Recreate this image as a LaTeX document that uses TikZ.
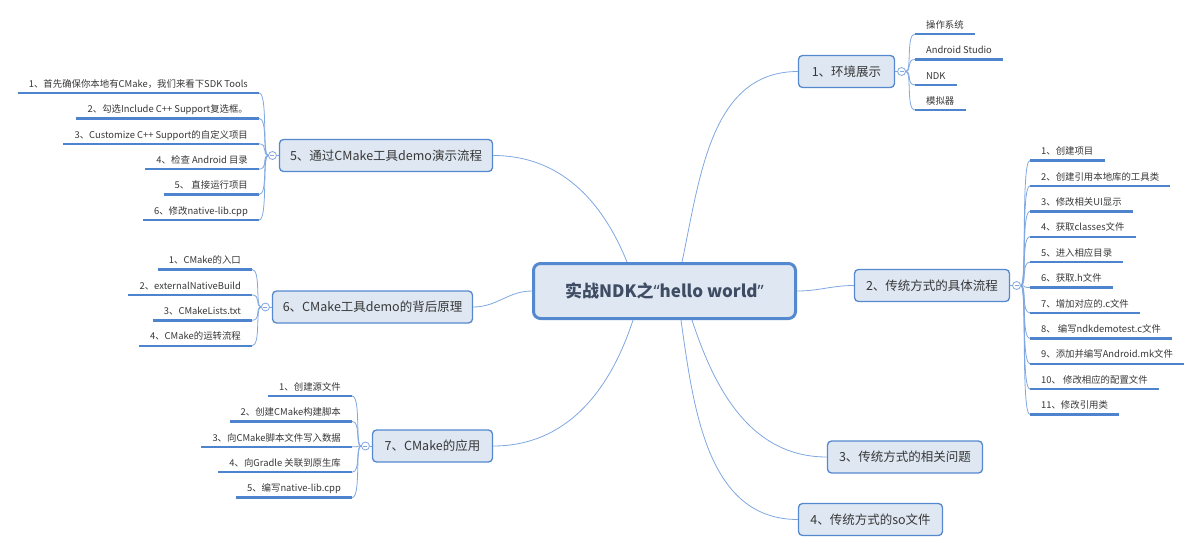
\documentclass[tikz,border=0pt]{standalone}
\usepackage{fontspec}
\setmainfont{Noto Sans CJK SC}
\newfontfamily\quotefont{Noto Sans}
\usetikzlibrary{positioning}
\definecolor{ndkfill}{RGB}{222,231,242}
\definecolor{ndkedge}{RGB}{84,137,208}
\definecolor{ndkwire}{RGB}{128,167,224}
\definecolor{ndkbar}{RGB}{78,132,205}
\definecolor{ndktext}{RGB}{55,55,55}
\definecolor{ndkhead}{RGB}{62,76,100}
\newcommand{\ndkquote}[1]{{\quotefont\bfseries #1}}
\tikzset{
  root/.style={draw=ndkedge, line width=3pt, fill=ndkfill, rounded corners=7pt, text=ndkhead, font=\bfseries\fontsize{17}{20}\selectfont, minimum width=262pt, minimum height=55pt},
  topic/.style={draw=ndkedge, line width=1.3pt, fill=ndkfill, rounded corners=4pt, text=ndktext, font=\fontsize{12.5}{14}\selectfont, minimum height=32pt},
  leaf/.style={text=ndktext, font=\fontsize{9.4}{10}\selectfont, inner xsep=11pt, inner ysep=3.6pt, text height=7pt, text depth=2pt,
    append after command={(\tikzlastnode.south west) edge[draw=ndkbar, line width=2.4pt] (\tikzlastnode.south east)}},
  fold/.style={circle, draw=ndkwire, fill=white, line width=0.8pt, minimum size=8pt, inner sep=0pt,
    path picture={\draw[ndkwire, line width=0.7pt] ([xshift=-2pt]path picture bounding box.center) -- ([xshift=2pt]path picture bounding box.center);}},
  wire/.style={draw=ndkwire, line width=0.8pt},
  twig/.style={wire, out distance=6pt, in distance=9pt}
}
\begin{document}
\begin{tikzpicture}[x=1pt, y=-1pt, node distance=8.8pt]
\useasboundingbox (0,0) rectangle (1200,552);
%% the centre and the main topics
\node[root] (ndkCenter) at (664.5,291) {实战NDK之\ndkquote{“}hello world\ndkquote{”}};
\node[topic, minimum width=96pt] (ndkEnv) at (846.5,71.5) {1、环境展示};
\node[topic, minimum width=155pt] (ndkFlow) at (932,285.5) {2、传统方式的具体流程};
\node[topic, minimum width=155pt] (ndkIssue) at (905,457) {3、传统方式的相关问题};
\node[topic, minimum width=144pt] (ndkSo) at (870.5,519.5) {4、传统方式的so文件};
\node[topic, minimum width=213pt] (ndkDemo) at (386,155.5) {5、通过CMake工具demo演示流程};
\node[topic, minimum width=200pt] (ndkWhy) at (372.5,307) {6、CMake工具demo的背后原理};
\node[topic, minimum width=120pt] (ndkApply) at (432.5,446) {7、CMake的应用};
%the fold markers
\node[fold, right=2pt of ndkEnv] (envFold) {};
\node[fold, right=2pt of ndkFlow] (flowFold) {};
\node[fold, left=2pt of ndkDemo] (demoFold) {};
\node[fold, left=2pt of ndkWhy] (whyFold) {};
\node[fold, left=2pt of ndkApply] (applyFold) {};
%leaves of 1
\node[leaf, anchor=south west] (envOs) at ([shift={(9pt,37.5pt)}]envFold.east) {操作系统};
\node[leaf, below=of envOs.south west, anchor=north west] (envStudio) {Android Studio};
\node[leaf, below=of envStudio.south west, anchor=north west] (envNdk) {NDK};
\node[leaf, below=of envNdk.south west, anchor=north west] (envEmu) {模拟器};
%leaves of 2
\node[leaf, anchor=south west] (flowA) at ([shift={(9pt,125pt)}]flowFold.east) {1、创建项目};
\node[leaf, below=of flowA.south west, anchor=north west] (flowB) {2、创建引用本地库的工具类};
\node[leaf, below=of flowB.south west, anchor=north west] (flowC) {3、修改相关UI显示};
\node[leaf, below=of flowC.south west, anchor=north west] (flowD) {4、获取classes文件};
\node[leaf, below=of flowD.south west, anchor=north west] (flowE) {5、进入相应目录};
\node[leaf, below=of flowE.south west, anchor=north west] (flowF) {6、获取.h文件};
\node[leaf, below=of flowF.south west, anchor=north west] (flowG) {7、增加对应的.c文件};
\node[leaf, below=of flowG.south west, anchor=north west] (flowH) {8、 编写ndkdemotest.c文件};
\node[leaf, below=of flowH.south west, anchor=north west] (flowI) {9、添加并编写Android.mk文件};
\node[leaf, below=of flowI.south west, anchor=north west] (flowJ) {10、 修改相应的配置文件};
\node[leaf, below=of flowJ.south west, anchor=north west] (flowK) {11、修改引用类};
%leaves of 5
\node[leaf, anchor=south east] (demoA) at ([shift={(-9pt,62.5pt)}]demoFold.west) {1、首先确保你本地有CMake，我们来看下SDK Tools};
\node[leaf, below=of demoA.south east, anchor=north east] (demoB) {2、勾选Include C++ Support复选框。};
\node[leaf, below=of demoB.south east, anchor=north east] (demoC) {3、Customize C++ Support的自定义项目};
\node[leaf, below=of demoC.south east, anchor=north east] (demoD) {4、检查 Android 目录};
\node[leaf, below=of demoD.south east, anchor=north east] (demoE) {5、 直接运行项目};
\node[leaf, below=of demoE.south east, anchor=north east] (demoF) {6、修改native-lib.cpp};
%leaves of 6
\node[leaf, anchor=south east] (whyA) at ([shift={(-9pt,37.5pt)}]whyFold.west) {1、CMake的入口};
\node[leaf, below=of whyA.south east, anchor=north east] (whyB) {2、externalNativeBuild};
\node[leaf, below=of whyB.south east, anchor=north east] (whyC) {3、CMakeLists.txt};
\node[leaf, below=of whyC.south east, anchor=north east] (whyD) {4、CMake的运转流程};
%leaves of 7
\node[leaf, anchor=south east] (applyA) at ([shift={(-9pt,50pt)}]applyFold.west) {1、创建源文件};
\node[leaf, below=of applyA.south east, anchor=north east] (applyB) {2、创建CMake构建脚本};
\node[leaf, below=of applyB.south east, anchor=north east] (applyC) {3、向CMake脚本文件写入数据};
\node[leaf, below=of applyC.south east, anchor=north east] (applyD) {4、向Gradle 关联到原生库};
\node[leaf, below=of applyD.south east, anchor=north east] (applyE) {5、编写native-lib.cpp};
%drawings of lines
\draw[wire] ([xshift=17.5pt]ndkCenter.north) to[out=78,in=180] (ndkEnv.west);
\draw[wire] (ndkCenter.east) to[out=0,in=180] (ndkFlow.west);
\draw[wire] ([xshift=27.5pt]ndkCenter.south) to[out=-72,in=180] (ndkIssue.west);
\draw[wire] ([xshift=16.5pt]ndkCenter.south) to[out=-82,in=180] (ndkSo.west);
\draw[wire] ([xshift=-37.5pt]ndkCenter.north) to[out=112,in=0] (ndkDemo.east);
\draw[wire] (ndkCenter.west) to[out=180,in=0] (ndkWhy.east);
\draw[wire] ([xshift=-31.5pt]ndkCenter.south) to[out=-108,in=0] (ndkApply.east);

\draw[wire] (ndkEnv.east) -- (envFold.west);
\draw[wire] (ndkFlow.east) -- (flowFold.west);
\draw[wire] (ndkDemo.west) -- (demoFold.east);
\draw[wire] (ndkWhy.west) -- (whyFold.east);
\draw[wire] (ndkApply.west) -- (applyFold.east);

\draw[twig] (envFold.east) to[out=0,in=180] (envOs.south west);
\draw[twig] (envFold.east) to[out=0,in=180] (envStudio.south west);
\draw[twig] (envFold.east) to[out=0,in=180] (envNdk.south west);
\draw[twig] (envFold.east) to[out=0,in=180] (envEmu.south west);

\draw[twig] (flowFold.east) to[out=0,in=180] (flowA.south west);
\draw[twig] (flowFold.east) to[out=0,in=180] (flowB.south west);
\draw[twig] (flowFold.east) to[out=0,in=180] (flowC.south west);
\draw[twig] (flowFold.east) to[out=0,in=180] (flowD.south west);
\draw[twig] (flowFold.east) to[out=0,in=180] (flowE.south west);
\draw[twig] (flowFold.east) to[out=0,in=180] (flowF.south west);
\draw[twig] (flowFold.east) to[out=0,in=180] (flowG.south west);
\draw[twig] (flowFold.east) to[out=0,in=180] (flowH.south west);
\draw[twig] (flowFold.east) to[out=0,in=180] (flowI.south west);
\draw[twig] (flowFold.east) to[out=0,in=180] (flowJ.south west);
\draw[twig] (flowFold.east) to[out=0,in=180] (flowK.south west);

\draw[twig] (demoFold.west) to[out=180,in=0] (demoA.south east);
\draw[twig] (demoFold.west) to[out=180,in=0] (demoB.south east);
\draw[twig] (demoFold.west) to[out=180,in=0] (demoC.south east);
\draw[twig] (demoFold.west) to[out=180,in=0] (demoD.south east);
\draw[twig] (demoFold.west) to[out=180,in=0] (demoE.south east);
\draw[twig] (demoFold.west) to[out=180,in=0] (demoF.south east);

\draw[twig] (whyFold.west) to[out=180,in=0] (whyA.south east);
\draw[twig] (whyFold.west) to[out=180,in=0] (whyB.south east);
\draw[twig] (whyFold.west) to[out=180,in=0] (whyC.south east);
\draw[twig] (whyFold.west) to[out=180,in=0] (whyD.south east);

\draw[twig] (applyFold.west) to[out=180,in=0] (applyA.south east);
\draw[twig] (applyFold.west) to[out=180,in=0] (applyB.south east);
\draw[twig] (applyFold.west) to[out=180,in=0] (applyC.south east);
\draw[twig] (applyFold.west) to[out=180,in=0] (applyD.south east);
\draw[twig] (applyFold.west) to[out=180,in=0] (applyE.south east);
\end{tikzpicture}
\end{document}
